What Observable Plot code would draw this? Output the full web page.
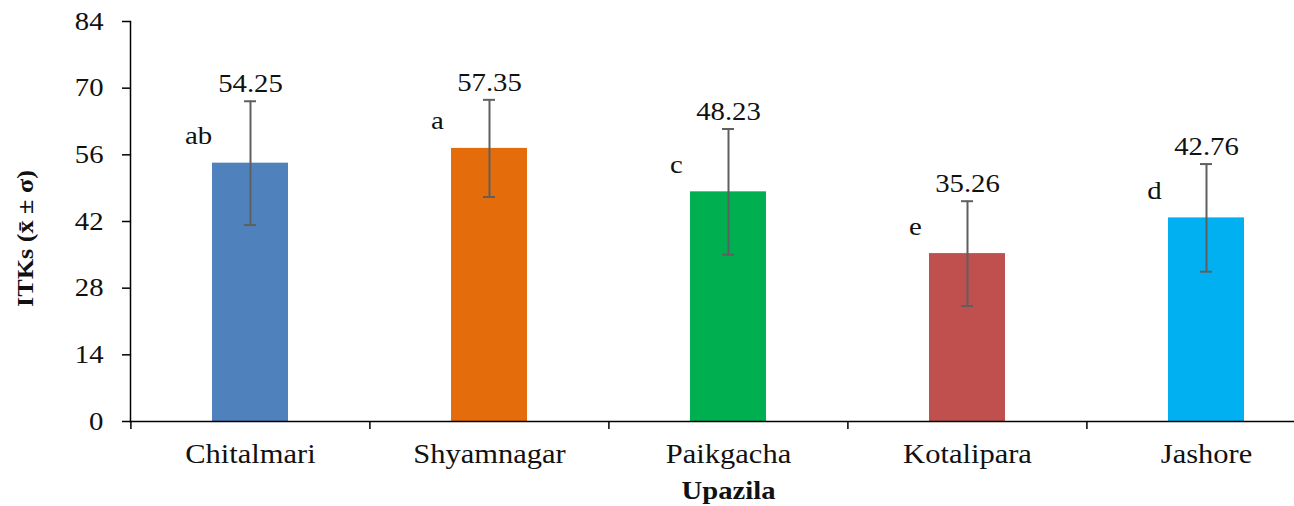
<!DOCTYPE html>
<html>
<head>
<meta charset="utf-8">
<script src="https://cdn.jsdelivr.net/npm/d3@7"></script>
<script src="https://cdn.jsdelivr.net/npm/@observablehq/plot@0.6"></script>
<style>
  html, body { margin: 0; padding: 0; background: #fff; overflow: hidden; }
  svg { display: block; }
  svg, svg text { font-family: "Liberation Serif", "Times New Roman", Times, serif !important; }
</style>
</head>
<body>
<script>
const upazilas = ["Chitalmari", "Shyamnagar", "Paikgacha", "Kotalipara", "Jashore"];
const means = [54.25, 57.35, 48.23, 35.26, 42.76];
const sds = [13.0, 10.2, 13.2, 11.0, 11.3];
const letters = ["ab", "a", "c", "e", "d"];
const colors = ["#4F81BD", "#E46C0A", "#00B050", "#C0504D", "#00B0F0"];
const yTicks = [0, 14, 28, 42, 56, 70, 84];
const xTitle = "Upazila";
const yTitle = "ITKs (x\u0304 \u00B1 \u03C3)";

const data = upazilas.map((name, i) => ({
  name, mean: means[i], sd: sds[i], letter: letters[i],
  lo: means[i] - sds[i], hi: means[i] + sds[i]
}));

const W = 1294, H = 506, ML = 130, MR = -32, MT = 21, MB = 85;
const step = (W - MR - ML) / upazilas.length;
const errColor = "#5f5f5f";

const svg = Plot.plot({
  width: W, height: H,
  marginLeft: ML, marginRight: MR, marginTop: MT, marginBottom: MB,
  style: { color: "#000", background: "#fff" },
  x: { domain: upazilas, paddingInner: 0.682, paddingOuter: 0.341, axis: null, label: null },
  y: { domain: [0, 84], axis: null, label: null },
  color: { domain: upazilas, range: colors },
  marks: [
    Plot.barY(data, { x: "name", y: "mean", fill: "name" }),
    Plot.ruleX(data, { x: "name", y1: "lo", y2: "hi", stroke: errColor, strokeWidth: 2 }),
    Plot.tickY(data, { x: "name", y: "lo", stroke: errColor, strokeWidth: 2, insetLeft: 32, insetRight: 32 }),
    Plot.tickY(data, { x: "name", y: "hi", stroke: errColor, strokeWidth: 2, insetLeft: 32, insetRight: 32 }),
    Plot.text(data, { x: "name", y: "hi", text: d => d.mean.toFixed(2), dy: -17, fontSize: 25, fill: "#111" }),
    Plot.text(data, { x: "name", y: "mean", text: "letter", dx: -52, dy: -27, fontSize: 25, fill: "#111" }),
    Plot.frame({ anchor: "left", stroke: "#000", strokeWidth: 1.5 }),
    Plot.frame({ anchor: "bottom", stroke: "#000", strokeWidth: 1.5 }),
    Plot.axisY({ ticks: yTicks, tickSize: 8, tickPadding: 19, fontSize: 25, label: null, stroke: "#000", strokeWidth: 1.5, fill: "#111" }),
    Plot.axisX({ tickSize: 0, tickPadding: 22, fontSize: 27, label: null, fill: "#111" }),
    Plot.axisX({ tickSize: 8, tickFormat: () => "", dx: -step / 2, label: null, stroke: "#000", strokeWidth: 1.5 }),
    Plot.text([xTitle], { frameAnchor: "bottom", dy: 69, textAnchor: "middle", lineAnchor: "middle", fontWeight: "bold", fontSize: 26, fill: "#111" }),
    Plot.text([yTitle], { frameAnchor: "left", dx: -105, dy: 17, rotate: -90, textAnchor: "middle", lineAnchor: "middle", fontWeight: "bold", fontSize: 24, fill: "#111" })
  ]
});
document.body.append(svg);

// reproduce the horizontally widened lettering of the reference
const fixLen = (t, len) => {
  t.setAttribute("textLength", len.toFixed(1));
  t.setAttribute("lengthAdjust", "spacingAndGlyphs");
};
svg.querySelectorAll("text").forEach(t => {
  const s = t.textContent;
  if (!s) return;
  if (s === yTitle) return fixLen(t, 137);
  if (s === xTitle) return fixLen(t, 94);
  const L = t.getComputedTextLength();
  const inXAxis = upazilas.includes(s);
  fixLen(t, L * (inXAxis ? 1.13 : 1.15));
});
</script>
</body>
</html>
